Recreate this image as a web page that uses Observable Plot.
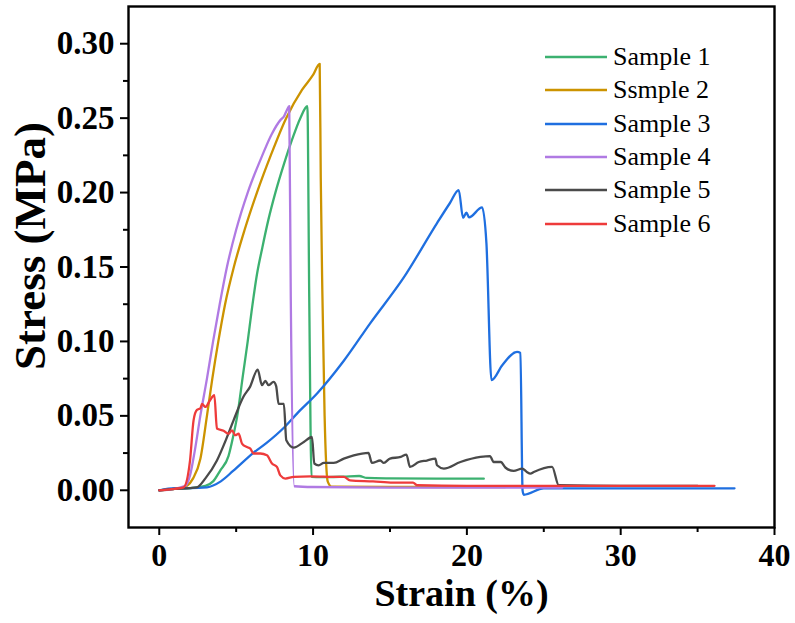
<!DOCTYPE html>
<html>
<head>
<meta charset="utf-8">
<script src="https://cdn.jsdelivr.net/npm/d3@7"></script>
<script src="https://cdn.jsdelivr.net/npm/@observablehq/plot@0.6"></script>
<style>
  html, body { margin: 0; padding: 0; background: #fff; }
  #wrap { position: relative; width: 795px; height: 623px; font-family: "Liberation Serif", "Times New Roman", serif; }
  #legend { position: absolute; left: 545px; top: 40px; }
  .row { position: absolute; left: 0; height: 34px; white-space: nowrap; }
  .row svg { position: absolute; left: 0; top: 0; }
  .row span { position: absolute; left: 68px; top: 0; font-size: 26px; line-height: 34px; color: #000; }
  .tlab text { font-weight: bold; }
</style>
</head>
<body>
<div id="wrap"></div>
<script>
// ---- data ----
const seriesNames = ["Sample 1", "Ssmple 2", "Sample 3", "Sample 4", "Sample 5", "Sample 6"];
const seriesColors = ["#3cb170", "#cc9300", "#1f6fe0", "#b07ae3", "#4a4a4a", "#ee3b3b"];

const s1x = [0, 1, 2, 3, 3.5, 3.97, 4.5, 4.8, 5.07, 5.45, 5.75, 6.0, 6.35, 6.7, 7.1, 7.55, 8.1, 8.65, 9.17, 9.63, 9.75, 9.9, 10.5, 12, 13, 13.5, 15, 18, 21.1];
const s1y = [0, 0.001, 0.0015, 0.003, 0.006, 0.0134, 0.023, 0.036, 0.05, 0.078, 0.10, 0.12, 0.145, 0.163, 0.182, 0.20, 0.219, 0.236, 0.25, 0.258, 0.13, 0.009, 0.0088, 0.0092, 0.0096, 0.0083, 0.008, 0.0078, 0.0078];

const s2x = [0, 1, 1.5, 1.8, 2.2, 2.67, 3.1, 3.45, 3.84, 4.28, 4.85, 5.55, 6.35, 7.25, 8.25, 9.28, 10.0, 10.43, 10.5, 10.6, 10.75, 10.95, 11.2, 15, 18, 22.5];
const s2y = [0, 0.001, 0.002, 0.003, 0.008, 0.021, 0.05, 0.075, 0.10, 0.125, 0.15, 0.175, 0.20, 0.225, 0.25, 0.269, 0.279, 0.2865, 0.21, 0.135, 0.05, 0.006, 0.0025, 0.0023, 0.0022, 0.0022];

const s3x = [0, 1, 2, 3.1, 4, 4.8, 6.1, 7, 8.1, 9.0, 10.26, 12, 13.7, 15.9, 18.06, 18.9, 19.47, 19.75, 19.97, 20.14, 20.99, 21.27, 21.6, 22.3, 23.26, 23.48, 23.62, 23.7, 25, 30, 37.4];
const s3y = [0, 0.0015, 0.0015, 0.002, 0.006, 0.013, 0.025, 0.032, 0.042, 0.052, 0.065, 0.087, 0.112, 0.143, 0.1795, 0.193, 0.2017, 0.183, 0.1865, 0.1834, 0.190, 0.166, 0.074, 0.084, 0.093, 0.0923, 0.0, -0.003, 0.0013, 0.0013, 0.0013];

const s4x = [0, 1, 1.4, 1.7, 2.0, 2.3, 2.67, 3.1, 3.5, 3.93, 4.4, 5.0, 5.75, 6.7, 7.3, 7.9, 8.1, 8.3, 8.45, 8.55, 8.78, 10, 15, 20, 26.2];
const s4y = [0, 0.001, 0.002, 0.003, 0.01, 0.026, 0.05, 0.075, 0.10, 0.125, 0.15, 0.175, 0.20, 0.225, 0.239, 0.249, 0.251, 0.2555, 0.258, 0.13, 0.0027, 0.0022, 0.0018, 0.0018, 0.0018];

const s5x = [0, 1, 2, 2.45, 3.0, 3.75, 4.3, 4.83, 5.48, 5.9, 6.4, 6.68, 6.9, 7.1, 7.43, 7.6, 7.76, 8.1, 8.26, 8.74, 9.4, 9.93, 10.08, 10.36, 10.7, 11.34, 12, 13.18, 13.6, 13.83, 14.37, 14.6, 15.0, 15.7, 16.07, 16.3, 16.87, 17.4, 17.95, 18.06, 18.5, 19.58, 20.88, 21.5, 21.74, 22.2, 22.5, 23.04, 23.6, 23.9, 24.13, 24.35, 25.54, 25.97, 30, 35];
const s5y = [0, 0.001, 0.0015, 0.002, 0.008, 0.02, 0.033, 0.047, 0.063, 0.0695, 0.081, 0.0706, 0.0735, 0.0706, 0.0728, 0.07, 0.058, 0.058, 0.0336, 0.0287, 0.0325, 0.0358, 0.018, 0.0168, 0.0184, 0.0184, 0.0213, 0.0247, 0.0251, 0.0184, 0.020, 0.0184, 0.0213, 0.0224, 0.024, 0.0157, 0.019, 0.020, 0.0213, 0.0168, 0.0146, 0.019, 0.0224, 0.023, 0.019, 0.019, 0.0153, 0.013, 0.0146, 0.0123, 0.0112, 0.0123, 0.0157, 0.0034, 0.003, 0.003];

const s6x = [0, 1, 1.58, 2.0, 2.23, 2.45, 2.67, 2.78, 3.0, 3.3, 3.58, 3.75, 4.18, 4.5, 4.73, 4.94, 5.16, 5.38, 5.7, 5.92, 6.13, 6.57, 7.0, 7.33, 7.65, 7.87, 8.2, 8.74, 9.82, 11.56, 12.0, 12.4, 13.9, 15.2, 16.5, 16.76, 20, 25, 30, 36.1];
const s6y = [0, 0.001, 0.002, 0.02, 0.047, 0.054, 0.055, 0.058, 0.056, 0.0605, 0.0639, 0.0415, 0.040, 0.038, 0.0403, 0.037, 0.038, 0.0314, 0.029, 0.028, 0.0247, 0.0247, 0.0235, 0.018, 0.0157, 0.010, 0.0079, 0.009, 0.0094, 0.009, 0.009, 0.0067, 0.006, 0.0052, 0.0052, 0.0034, 0.003, 0.003, 0.003, 0.003];

const xTicks = [0, 10, 20, 30, 40];
const xMinor = [5, 15, 25, 35];
const yTicks = [0, 0.05, 0.10, 0.15, 0.20, 0.25, 0.30];
const yMinor = [0.025, 0.075, 0.125, 0.175, 0.225, 0.275];

// ---- build table ----
const xs = [s1x, s2x, s3x, s4x, s5x, s6x];
const ys = [s1y, s2y, s3y, s4y, s5y, s6y];
const rows = [];
seriesNames.forEach((name, i) => {
  xs[i].forEach((x, j) => rows.push({series: name, strain: x, stress: ys[i][j]}));
});

const FONT = "Liberation Serif, Times New Roman, serif";

const chart = Plot.plot({
  width: 795,
  height: 623,
  marginLeft: 128,
  marginRight: 21,
  marginTop: 6,
  marginBottom: 96,
  style: {fontFamily: FONT, background: "#fff", color: "#000"},
  x: {domain: [-2, 40], label: null},
  y: {domain: [-0.025, 0.325], label: null},
  color: {domain: seriesNames, range: seriesColors},
  marks: [
    Plot.line(rows, {x: "strain", y: "stress", z: "series", stroke: "series", strokeWidth: 2.3, curve: "monotone-x"}),
    Plot.frame({stroke: "#000", strokeWidth: 2.4}),
    Plot.axisX({ticks: xTicks, tickSize: 8, tickPadding: 8, strokeWidth: 2, fontSize: 32, fontWeight: "bold", tickFormat: d => String(d), label: null, className: "tlab"}),
    Plot.axisX({ticks: xMinor, tickSize: 5, strokeWidth: 2, tickFormat: () => "", label: null}),
    Plot.axisY({ticks: yTicks, tickSize: 8, tickPadding: 6, strokeWidth: 2, fontSize: 33, fontWeight: "bold", tickFormat: d => d.toFixed(2), label: null, className: "tlab"}),
    Plot.axisY({ticks: yMinor, tickSize: 5, strokeWidth: 2, tickFormat: () => "", label: null}),
    Plot.text(["Strain (%)"], {frameAnchor: "bottom", textAnchor: "middle", dx: 10, dy: 78, fontSize: 38, fontWeight: "bold", fill: "#000"}),
    Plot.text(["Stress (MPa)"], {frameAnchor: "left", textAnchor: "middle", lineAnchor: "middle", dx: -98, dy: -21, rotate: -90, fontSize: 45, fontWeight: "bold", fill: "#000"})
  ]
});

const wrap = document.getElementById("wrap");
wrap.appendChild(chart);

// ---- legend ----
const legend = document.createElement("div");
legend.id = "legend";
const rowCenters = [56.7, 90.3, 123.6, 157, 190.3, 223.6];
seriesNames.forEach((name, i) => {
  const r = document.createElement("div");
  r.className = "row";
  r.style.top = (rowCenters[i] - 17 - 40) + "px";
  r.innerHTML = `<svg width="64" height="34"><line x1="0" x2="62" y1="17" y2="17" stroke="${seriesColors[i]}" stroke-width="2.5"/></svg><span>${name}</span>`;
  legend.appendChild(r);
});
wrap.appendChild(legend);
</script>
</body>
</html>
